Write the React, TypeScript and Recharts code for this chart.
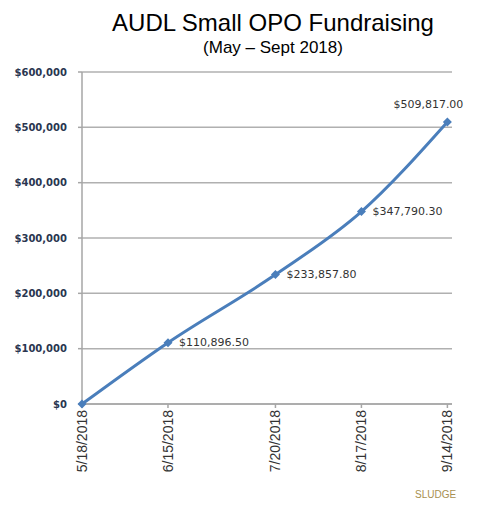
import { CartesianGrid, LabelList, Line, LineChart, XAxis, YAxis } from "recharts";

const dates = ["5/18/2018", "6/15/2018", "7/20/2018", "8/17/2018", "9/14/2018"];
const raised = [0, 110896.5, 233857.8, 347790.3, 509817.0];
const yTicks = [0, 100000, 200000, 300000, 400000, 500000, 600000];

const toDay = (s: string) => {
  const [m, d, y] = s.split("/").map(Number);
  return Date.UTC(y, m - 1, d) / 86400000;
};
const start = toDay(dates[0]);
const days = dates.map((d) => toDay(d) - start);
const data = dates.map((d, i) => ({ day: days[i], label: d, value: raised[i] }));

const money = (v: number) => "$" + v.toLocaleString("en-US");
const money2 = (v: number) =>
  "$" + v.toLocaleString("en-US", { minimumFractionDigits: 2, maximumFractionDigits: 2 });

function XTick({ x, y, payload }: any) {
  const i = days.indexOf(payload.value);
  return (
    <g transform={`translate(${x},${y})`}>
      <text
        transform="rotate(-90)"
        textAnchor="end"
        dominantBaseline="central"
        fontFamily="Liberation Sans, Arial, sans-serif"
        fontSize={14}
        fill="#333"
      >
        {dates[i]}
      </text>
    </g>
  );
}

function YTick({ x, y, payload }: any) {
  return (
    <text
      x={x}
      y={y}
      textAnchor="end"
      dominantBaseline="central"
      fontFamily="DejaVu Sans, Verdana, sans-serif"
      fontWeight="bold"
      fontSize={10}
      fill="#2a3650"
    >
      {money(payload.value)}
    </text>
  );
}

function PointLabel({ x, y, value, index }: any) {
  if (index === 0) return null;
  const last = index === raised.length - 1;
  return (
    <text
      x={last ? x - 19 : x + 11}
      y={last ? y - 14 : y}
      textAnchor={last ? "middle" : "start"}
      dominantBaseline={last ? "auto" : "central"}
      fontFamily="DejaVu Sans, Verdana, sans-serif"
      fontSize={11}
      fill="#333"
    >
      {money2(value)}
    </text>
  );
}

function Diamond({ cx, cy }: any) {
  const r = 4.5;
  return (
    <path
      d={`M${cx},${cy - r} L${cx + r},${cy} L${cx},${cy + r} L${cx - r},${cy} Z`}
      fill="#4a7ebb"
    />
  );
}

export default function App() {
  return (
    <div
      style={{
        position: "absolute",
        left: 0,
        top: 0,
        width: 495,
        height: 506,
        background: "#fff",
        fontFamily: "Liberation Sans, Arial, sans-serif",
      }}
    >
      <div
        style={{
          position: "absolute",
          left: 0,
          width: 546,
          top: 9,
          textAlign: "center",
          fontSize: 24,
          lineHeight: "28px",
          color: "#000",
        }}
      >
        AUDL Small OPO Fundraising
      </div>
      <div
        style={{
          position: "absolute",
          left: 0,
          width: 546,
          top: 38,
          textAlign: "center",
          fontSize: 17,
          lineHeight: "20px",
          color: "#000",
        }}
      >
        (May – Sept 2018)
      </div>
      <LineChart
        width={495}
        height={506}
        data={data}
        margin={{ top: 72, right: 43, bottom: 32, left: 0 }}
      >
        <CartesianGrid vertical={false} stroke="#b0b0b0" strokeWidth={1.5} />
        <XAxis
          dataKey="day"
          type="number"
          domain={[0, 120.5]}
          ticks={days}
          tick={<XTick />}
          height={70}
          tickSize={4}
          tickMargin={2}
          stroke="#a6a6a6"
          strokeWidth={1.5}
          interval={0}
        />
        <YAxis
          width={82}
          domain={[0, 600000]}
          ticks={yTicks}
          tick={<YTick />}
          tickSize={4}
          tickMargin={11}
          stroke="#a6a6a6"
          strokeWidth={1.5}
          interval={0}
        />
        <Line
          type="monotone"
          dataKey="value"
          stroke="#4a7ebb"
          strokeWidth={3}
          dot={<Diamond />}
          activeDot={false}
          isAnimationActive={false}
        >
          <LabelList dataKey="value" content={<PointLabel />} />
        </Line>
      </LineChart>
      <div
        style={{
          position: "absolute",
          left: 415,
          top: 489,
          fontSize: 10,
          color: "#a89050",
          lineHeight: "12px",
        }}
      >
        SLUDGE
      </div>
    </div>
  );
}
